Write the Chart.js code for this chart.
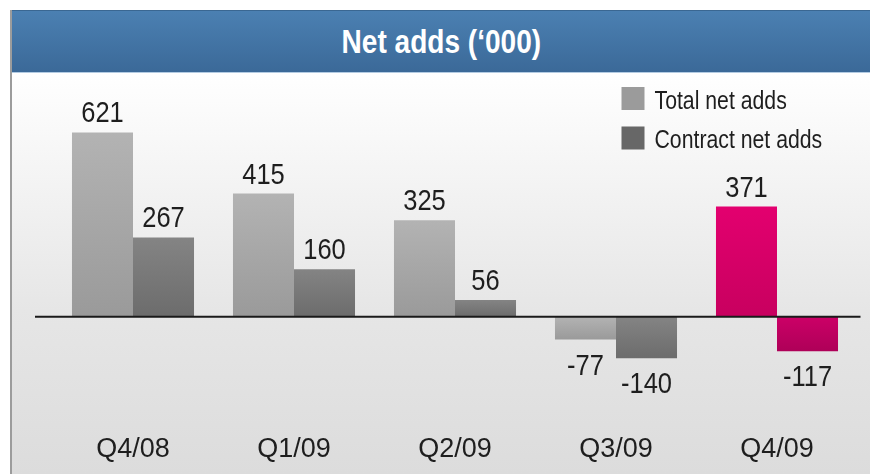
<!DOCTYPE html>
<html lang="en">
<head>
  <meta charset="UTF-8">
  <title>Net adds</title>
  <script src="https://cdn.jsdelivr.net/npm/chart.js"></script>
  <style>
    body { margin: 0; background: #fff; }
    .frame {
      position: absolute; left: 10px; top: 10px; width: 860px; height: 464px;
      border-left: 2px solid #9c9c9c; box-sizing: border-box;
      background: linear-gradient(#ffffff 62px, #e6e6e6 300px, #dcdcdc);
    }
    .title {
      height: 61px; border-top: 1px solid #3a6792; border-bottom: 1px solid #b3cbe2;
      background: linear-gradient(#4b80b2, #3b6998);
      color: #fff; text-align: center;
      font: bold 33px "Liberation Sans", Arial, sans-serif;
      line-height: 61px;
    }
    .title span { display: inline-block; transform: scaleX(0.85); }
    .chart { position: absolute; left: 0; top: 63px; width: 858px; height: 401px; }
  </style>
</head>
<body>

<div class="frame">
  <div class="title"><span>Net adds (‘000)</span></div>
  <div class="chart"><canvas id="netAdds"></canvas></div>
</div>

<script>
const quarters = ["Q4/08", "Q1/09", "Q2/09", "Q3/09", "Q4/09"];
const totalNetAdds = [621, 415, 325, -77, 371];
const contractNetAdds = [267, 160, 56, -140, -117];

const FONT = '"Liberation Sans", Arial, sans-serif';
const SQUEEZE = 0.85; // the source font is a narrow grotesque

// vertical gradient per bar, lighter at the top
function barFill(light, dark, hiLight, hiDark) {
  return ctx => {
    const chart = ctx.chart;
    const y = chart.scales.y;
    const hi = ctx.dataIndex === 4;
    const a = hi ? hiLight : light, b = hi ? hiDark : dark;
    if (!chart.chartArea || !y || !ctx.parsed) return a;
    const y0 = y.getPixelForValue(0), y1 = y.getPixelForValue(ctx.parsed.y);
    if (Math.abs(y1 - y0) < 1) return a;
    const g = chart.ctx.createLinearGradient(0, Math.min(y0, y1), 0, Math.max(y0, y1));
    g.addColorStop(0, a);
    g.addColorStop(1, b);
    return g;
  };
}

function narrowText(c, text, x, y) {
  c.save();
  c.translate(x, y);
  c.scale(SQUEEZE, 1);
  c.fillText(text, 0, 0);
  c.restore();
}

const zeroLine = {
  id: "zeroLine",
  afterDatasetsDraw(chart) {
    const c = chart.ctx, y = chart.scales.y.getPixelForValue(0);
    c.save();
    c.strokeStyle = "#1a1a1a";
    c.lineWidth = 2;
    c.beginPath();
    c.moveTo(23, y);
    c.lineTo(chart.chartArea.right + 3, y);
    c.stroke();
    c.restore();
  }
};

const valueLabels = {
  id: "valueLabels",
  afterDatasetsDraw(chart) {
    const c = chart.ctx;
    c.save();
    c.font = "30px " + FONT;
    c.fillStyle = "#1e1e1e";
    c.textAlign = "center";
    c.textBaseline = "alphabetic";
    chart.data.datasets.forEach((ds, i) => {
      chart.getDatasetMeta(i).data.forEach((bar, j) => {
        const v = ds.data[j];
        narrowText(c, v, bar.x, v >= 0 ? bar.y - 10 : bar.y + 35);
      });
    });
    c.restore();
  }
};

const boxLegend = {
  id: "boxLegend",
  afterDraw(chart) {
    const c = chart.ctx;
    const x = chart.chartArea.right - 236;
    c.save();
    c.font = "25px " + FONT;
    c.textBaseline = "alphabetic";
    chart.data.datasets.forEach((ds, i) => {
      const top = 14 + i * 39.5;
      c.fillStyle = ds.legendColor;
      c.fillRect(x, top, 23, 23);
      c.fillStyle = "#1e1e1e";
      narrowText(c, ds.label, x + 33, top + 21.5);
    });
    c.restore();
  }
};

new Chart(document.getElementById("netAdds"), {
  type: "bar",
  data: {
    labels: quarters,
    datasets: [
      {
        label: "Total net adds",
        data: totalNetAdds,
        legendColor: "#9b9b9b",
        backgroundColor: barFill("#b3b3b3", "#9a9a9a", "#e3006f", "#c8005f")
      },
      {
        label: "Contract net adds",
        data: contractNetAdds,
        legendColor: "#676767",
        backgroundColor: barFill("#848484", "#6c6c6c", "#cc0067", "#ae0058")
      }
    ]
  },
  options: {
    responsive: true,
    maintainAspectRatio: false,
    animation: false,
    layout: { padding: { top: 20, bottom: 2, left: 40.5, right: 12.5 } },
    datasets: { bar: { barPercentage: 1, categoryPercentage: 0.758 } },
    plugins: { legend: { display: false }, tooltip: { enabled: false } },
    scales: {
      x: {
        grid: { display: false, drawTicks: false },
        border: { display: false },
        ticks: { color: "#1e1e1e", padding: 6, font: { family: FONT, size: 27 } }
      },
      y: { display: false, min: -374, max: 754 }
    }
  },
  plugins: [zeroLine, valueLabels, boxLegend]
});
</script>

</body>
</html>
